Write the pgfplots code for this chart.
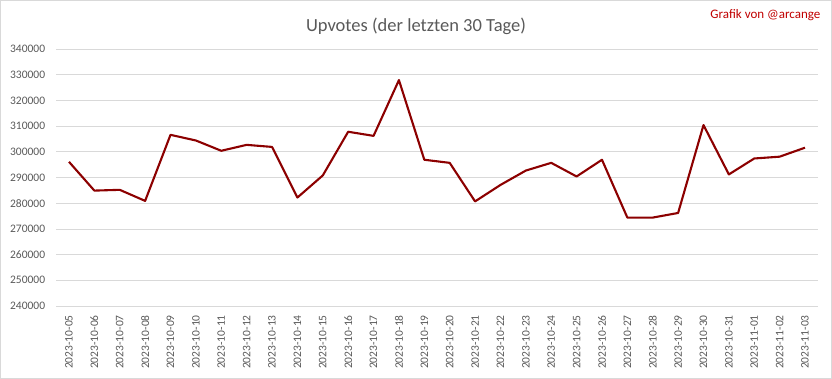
\documentclass[border=0pt]{standalone}
\usepackage{fontspec}
\setmainfont{Carlito}
\usepackage{pgfplots}
\pgfplotsset{compat=1.18}
\definecolor{linered}{RGB}{140,0,0}
\definecolor{txtgray}{RGB}{89,89,89}
\definecolor{gridgray}{RGB}{217,217,217}
\definecolor{credred}{RGB}{192,0,0}
\begin{document}
\begin{tikzpicture}
\useasboundingbox (0bp,0bp) rectangle (832bp,379bp);
\draw[gridgray, line width=1bp] (0.5bp,0.5bp) rectangle (831.5bp,378.5bp);
\node[font=\fontsize{18.5bp}{20bp}\selectfont, text=txtgray, anchor=base] at (416bp,347bp) {Upvotes (der letzten 30 Tage)};
\node[font=\fontsize{13bp}{15bp}\selectfont, text=credred, anchor=base east, inner sep=0pt] at (820.5bp,360bp) {Grafik von @arcange};
\begin{axis}[
  at={(56.3bp,73bp)}, anchor=south west,
  scale only axis, width=761.4bp, height=257bp,
  xmin=-0.5, xmax=29.5, ymin=240000, ymax=340000,
  ytick={240000,250000,...,340000},
  xtick={0,...,29},
  xticklabels={2023-10-05,2023-10-06,2023-10-07,2023-10-08,2023-10-09,2023-10-10,2023-10-11,2023-10-12,2023-10-13,2023-10-14,2023-10-15,2023-10-16,2023-10-17,2023-10-18,2023-10-19,2023-10-20,2023-10-21,2023-10-22,2023-10-23,2023-10-24,2023-10-25,2023-10-26,2023-10-27,2023-10-28,2023-10-29,2023-10-30,2023-10-31,2023-11-01,2023-11-02,2023-11-03},
  scaled y ticks=false,
  /pgf/number format/assume math mode=true,
  yticklabel={\pgfmathprintnumber[fixed,1000 sep={}]{\tick}},
  ymajorgrids, grid style={gridgray, line width=0.75bp},
  axis line style={draw=none},
  major tick length=0pt,
  tick label style={font=\fontsize{11.5bp}{13bp}\selectfont, text=txtgray},
  yticklabel style={anchor=east, inner sep=0pt, xshift=-11bp},
  xticklabel style={yshift=-9bp, rotate=90, anchor=east, inner sep=0pt},
]
\addplot[linered, line width=2.1bp, line join=round, mark=none] coordinates {
(0,296100) (1,284900) (2,285200) (3,280900) (4,306600) (5,304400)
(6,300400) (7,302700) (8,301900) (9,282200) (10,290800) (11,307800)
(12,306200) (13,327900) (14,296900) (15,295700) (16,280700) (17,287100)
(18,292700) (19,295700) (20,290400) (21,296900) (22,274400) (23,274400)
(24,276200) (25,310400) (26,291200) (27,297400) (28,298100) (29,301600)
};
\end{axis}
\end{tikzpicture}
\end{document}
